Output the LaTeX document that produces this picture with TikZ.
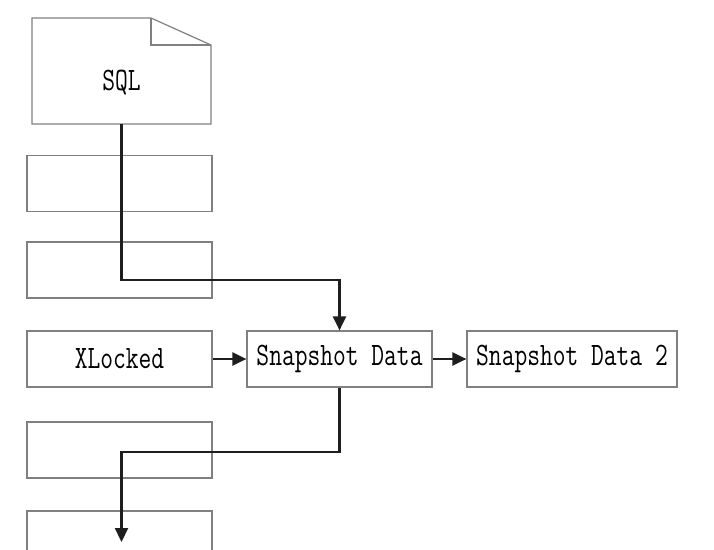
\documentclass[tikz,border=0pt]{standalone}
\usepackage{fontspec}
\usetikzlibrary{arrows.meta}
\definecolor{boxgray}{HTML}{808080}
\definecolor{linedark}{HTML}{1E1E1E}
\newcommand{\tallword}[1]{\scalebox{1}[1.32]{#1}}
\tikzset{
  cell/.style={draw=boxgray, line width=1.2pt, minimum width=185pt, minimum height=56pt,
    inner sep=0pt, font=\fontsize{24.8}{28}\ttfamily},
  flow/.style={draw=linedark, line width=2.2pt, -{Triangle[length=14pt,width=13pt]}}
}
\begin{document}
\begin{tikzpicture}[x=1pt, y=-1pt]
    \useasboundingbox[fill=white] (0,0) rectangle (714,549);
    % SQL document
    \node[inner sep=0pt, minimum width=179pt, minimum height=106pt] (sql) at (121.5,71) {};
    \draw[boxgray, line width=1.2pt] (32,18) -- (151,18) -- (211,45) -- (211,124) -- (32,124) -- cycle;
    \draw[boxgray, line width=1.2pt] (151,18) -- (151,45) -- (211,45);
    \node[font=\fontsize{24.8}{28}\ttfamily] (sqltext) at (121.5,83) {\tallword{SQL}};
    % left column
    \node[cell] (B1) at (119.5,183.5) {};
    \node[cell] (B2) at (119.5,270) {};
    \node[cell] (X0) at (119.5,359) {\tallword{XLocked}};
    \node[cell] (B3) at (119.5,450) {};
    \node[cell] (B4) at (119.5,539) {};
    % snapshot chain
    \node[cell] (S1) at (339.5,359) {\tallword{Snapshot Data}};
    \node[cell, minimum width=210pt] (S2) at (572,359) {\tallword{Snapshot Data 2}};
    \coordinate (J1) at (339.5,280);
    \coordinate (J2) at (121.5,452);
    \coordinate (E1) at (121.5,542);
    \draw [flow] (sql.south) |- (J1) -- (S1.north);
    \draw [flow] (X0) to (S1);
    \draw [flow] (S1) to (S2);
    \draw [flow] (S1.south) |- (J2) -- (E1);
  \end{tikzpicture}
\end{document}
